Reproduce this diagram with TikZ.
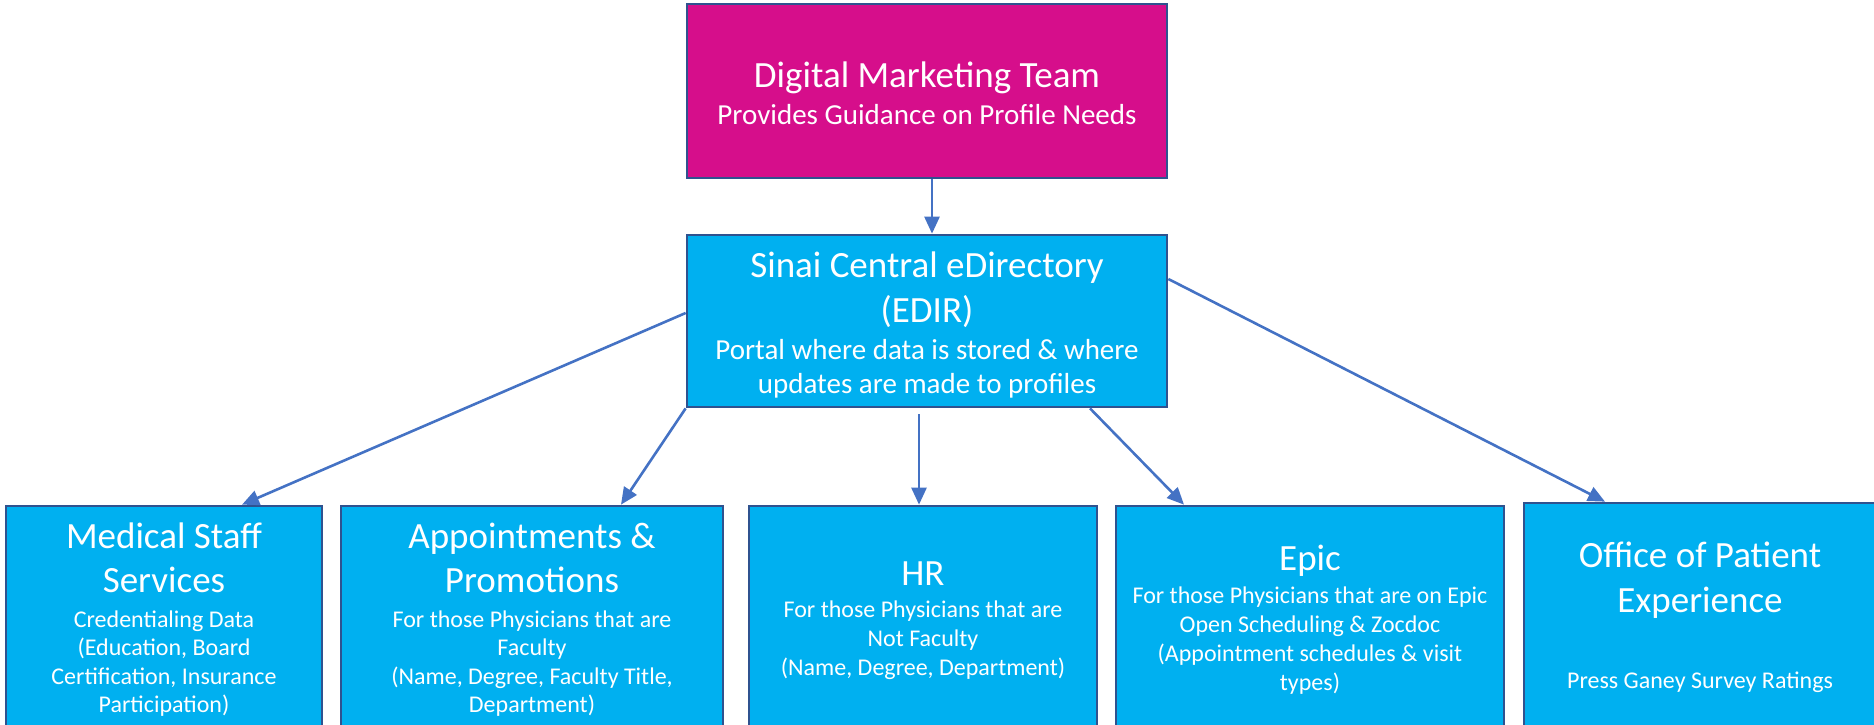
\documentclass[tikz,border=0pt]{standalone}
\usepackage{fontspec}
\setmainfont{Carlito}
\usetikzlibrary{arrows.meta}
\definecolor{magentabox}{RGB}{214,14,139}
\definecolor{cyanbox}{RGB}{0,176,240}
\definecolor{boxline}{RGB}{47,82,143}
\definecolor{arrowblue}{RGB}{68,114,196}
\tikzset{
  box/.style={draw=boxline, line width=2.7pt, inner sep=0pt},
  tt/.style={font=\fontsize{37}{44}\selectfont, text=white, anchor=base, inner sep=0pt},
  ts/.style={font=\fontsize{29}{35}\selectfont, text=white, anchor=base, inner sep=0pt},
  tb/.style={font=\fontsize{24}{29}\selectfont, text=white, anchor=base, inner sep=0pt},
  conn/.style={draw=arrowblue, line width=2.6pt, -{Triangle[length=17pt,width=15pt]}}
}
\begin{document}
\begin{tikzpicture}[x=1pt,y=-1pt]
\useasboundingbox (0,0) rectangle (1874,724);
\clip (0,0) rectangle (1874,724);
% boxes
\node[box, fill=magentabox, minimum width=480pt, minimum height=174pt] (dm) at (927,91) {};
\node[box, fill=cyanbox, minimum width=480pt, minimum height=172pt] (edir) at (927,321) {};
\node[box, fill=cyanbox, minimum width=316pt, minimum height=240pt] (ms) at (164,626) {};
\node[box, fill=cyanbox, minimum width=382pt, minimum height=240pt] (ap) at (532,626) {};
\node[box, fill=cyanbox, minimum width=348pt, minimum height=240pt] (hr) at (923,626) {};
\node[box, fill=cyanbox, minimum width=388pt, minimum height=240pt] (ep) at (1310,626) {};
\node[box, fill=cyanbox, minimum width=360pt, minimum height=240pt] (op) at (1704,623) {};
% texts: digital marketing
\node[tt] (dm1) at (927,87) {Digital Marketing Team};
\node[ts] (dm2) at (927,124) {Provides Guidance on Profile Needs};
% edir
\node[tt] (ed1) at (927,277) {Sinai Central eDirectory};
\node[tt] (ed2) at (927,322) {(EDIR)};
\node[ts] (ed3) at (927,359) {Portal where data is stored \& where};
\node[ts] (ed4) at (927,393) {updates are made to profiles};
% medical staff
\node[tt] (ms1) at (164,548) {Medical Staff};
\node[tt] (ms2) at (164,592) {Services};
\node[tb] (ms3) at (164,627) {Credentialing Data};
\node[tb] (ms4) at (164,655) {(Education, Board};
\node[tb] (ms5) at (164,684) {Certification, Insurance};
\node[tb] (ms6) at (164,712) {Participation)};
% appointments
\node[tt] (ap1) at (532,548) {Appointments \&};
\node[tt] (ap2) at (532,592) {Promotions};
\node[tb] (ap3) at (532,627) {For those Physicians that are};
\node[tb] (ap4) at (532,655) {Faculty};
\node[tb] (ap5) at (532,684) {(Name, Degree, Faculty Title,};
\node[tb] (ap6) at (532,712) {Department)};
% hr
\node[tt] (hr1) at (923,585) {HR};
\node[tb] (hr2) at (923,617) {For those Physicians that are};
\node[tb] (hr3) at (923,646) {Not Faculty};
\node[tb] (hr4) at (923,675) {(Name, Degree, Department)};
% epic
\node[tt] (ep1) at (1310,570) {Epic};
\node[tb] (ep2) at (1310,603) {For those Physicians that are on Epic};
\node[tb] (ep3) at (1310,632) {Open Scheduling \& Zocdoc};
\node[tb] (ep4) at (1310,661) {(Appointment schedules \& visit};
\node[tb] (ep5) at (1310,690) {types)};
% office
\node[tt] (op1) at (1700,567) {Office of Patient};
\node[tt] (op2) at (1700,612) {Experience};
\node[tb] (op3) at (1700,688) {Press Ganey Survey Ratings};
% connectors
\draw[conn] ([xshift=5pt]dm.south) -- ([xshift=5pt]edir.north);
\draw[conn] ([yshift=8pt]edir.west) -- ([xshift=78pt]ms.north);
\draw[conn] (edir.south west) -- ([xshift=89pt]ap.north);
\draw[conn] ([xshift=-8pt,yshift=-6pt]edir.south) -- ([xshift=-4pt]hr.north);
\draw[conn] ([xshift=163pt]edir.south) -- ([xshift=-126pt]ep.north);
\draw[conn] ([yshift=42pt]edir.east) -- ([xshift=-99pt]op.north);
\end{tikzpicture}
\end{document}
